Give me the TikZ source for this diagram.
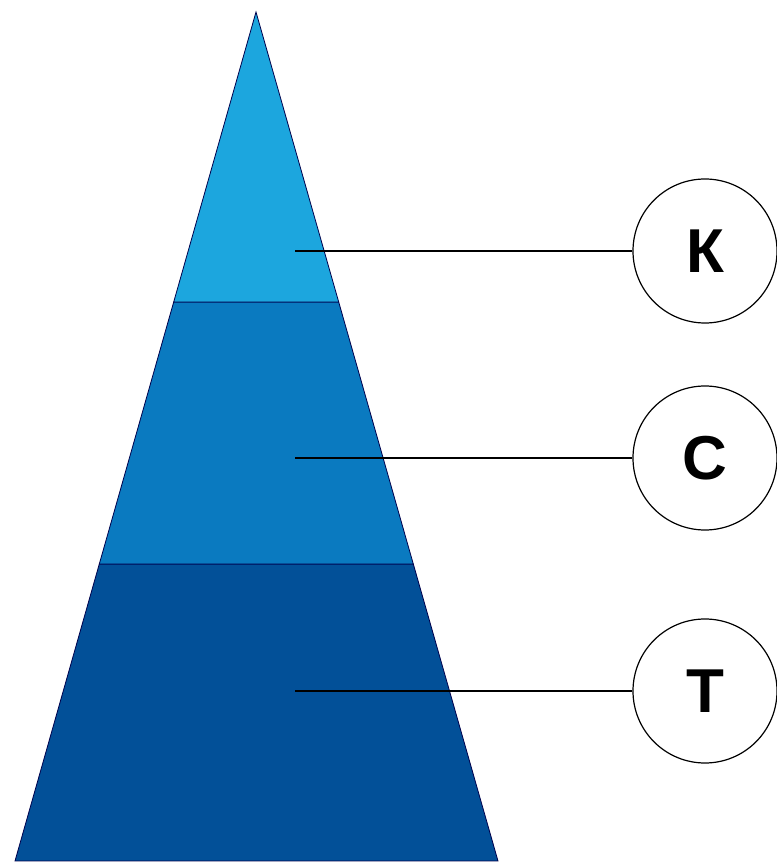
\documentclass[tikz,border=0pt]{standalone}
\usepackage{fontspec}
\setmainfont{Liberation Sans}
\usepackage{tikz}

\definecolor{topblue}{RGB}{28,166,222}
\definecolor{midblue}{RGB}{10,122,192}
\definecolor{lowblue}{RGB}{2,80,152}

\begin{document}
\begin{tikzpicture}[x=1pt, y=1pt,
    level/.style={circle, draw, line width=1.2pt, minimum size=144pt, inner sep=0pt,
        font=\fontsize{62}{62}\selectfont\bfseries},
    link/.style={black, line width=1.2pt}]
    \useasboundingbox (0, 0) rectangle (777, 863);
    \filldraw[lowblue, draw=black!70!blue, line width=0.8pt] (15, 2) -- (498, 2) -- (413.3, 299) -- (99.3, 299) -- cycle;
    \filldraw[midblue, draw=black!70!blue, line width=0.8pt] (99.3, 299) -- (413.3, 299) -- (338.7, 561) -- (173.7, 561) -- cycle;
    \filldraw[topblue, draw=black!70!blue, line width=0.8pt] (173.7, 561) -- (338.7, 561) -- (256, 851) -- cycle;
    \node[level] (k) at (705, 612) {К};
    \node[level] (c) at (705, 405) {С};
    \node[level] (t) at (705, 172) {Т};
    \coordinate (ka) at (295, 612);
    \coordinate (ca) at (295, 405);
    \coordinate (ta) at (295, 172);
    \draw[link] (ka) -- (k);
    \draw[link] (ca) -- (c);
    \draw[link] (ta) -- (t);
\end{tikzpicture}
\end{document}
